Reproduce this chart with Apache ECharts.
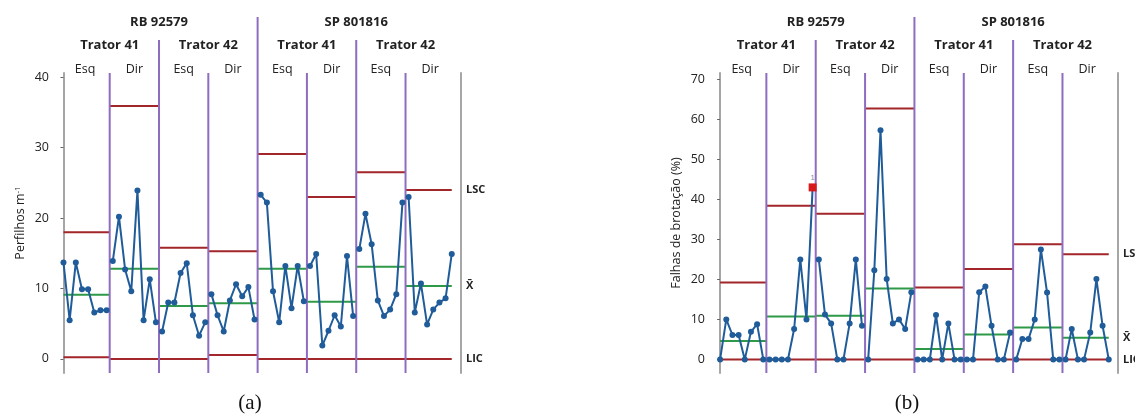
<!DOCTYPE html>
<html><head><meta charset="utf-8">
<script src="https://cdn.jsdelivr.net/npm/echarts@6/dist/echarts.min.js"></script>
<style>html,body{margin:0;padding:0;background:#fff}#c{width:1135px;height:417px}</style>
</head><body><div id="c"></div>
<script>
// ---------- data ----------
const cultivars = ['RB 92579', 'SP 801816'];
const tractors = ['Trator 41', 'Trator 42'];
const sides = ['Esq', 'Dir'];
const pointsPerGroup = 8;

// (a) Perfilhos m-1
const perfilhos = [
  13.7, 5.5, 13.7, 9.9, 9.9, 6.6, 6.9, 6.9,
  13.9, 20.2, 12.7, 9.6, 23.9, 5.5, 11.3, 5.2,
  3.9, 8.0, 8.0, 12.2, 13.6, 6.2, 3.3, 5.2,
  9.2, 6.2, 3.9, 8.3, 10.6, 8.9, 10.2, 5.6,
  23.3, 22.2, 9.6, 5.2, 13.2, 7.2, 13.2, 8.2,
  13.2, 14.9, 1.9, 4.0, 6.2, 4.6, 14.6, 6.1,
  15.6, 20.6, 16.3, 8.3, 6.1, 7.0, 9.2, 22.2,
  23.0, 6.6, 10.7, 4.9, 7.0, 8.0, 8.6, 14.9
];
const lscA = [18.0, 35.9, 15.8, 15.3, 29.1, 23.0, 26.5, 24.0];
const meanA = [9.1, 12.8, 7.5, 7.9, 12.8, 8.1, 13.1, 10.35];
const licA = [0.24, 0, 0, 0.57, 0, 0, 0, 0];
const yTicksA = [0, 10, 20, 30, 40];

// (b) Falhas de brotação (%)
const falhas = [
  0, 10.0, 6.1, 6.1, 0, 6.9, 8.8, 0,
  0, 0, 0, 0, 7.6, 25.0, 10.0, 43.0,
  25.0, 11.2, 9.0, 0, 0, 9.0, 25.0, 8.4,
  0, 22.3, 57.3, 20.1, 9.0, 10.0, 7.6, 16.8,
  0, 0, 0, 11.1, 0, 9.0, 0, 0,
  0, 0, 16.8, 18.2, 8.4, 0, 0, 6.7,
  0, 5.1, 5.1, 10.0, 27.5, 16.7, 0, 0,
  0, 7.6, 0, 0, 6.7, 20.1, 8.4, 0
];
const lscB = [19.25, 38.4, 36.4, 62.75, 18.0, 22.6, 28.8, 26.3];
const meanB = [4.6, 10.7, 10.9, 17.75, 2.6, 6.25, 8.0, 5.4];
const licB = [0, 0, 0, 0, 0, 0, 0, 0];
const outOfControlB = [15];
const yTicksB = [0, 10, 20, 30, 40, 50, 60, 70];

const limitLabels = ['LSC', 'X\u0304', 'LIC'];
const panelLabels = ['(a)', '(b)'];

// ---------- style ----------
const FONT = 'Open Sans';
const C_DATA = '#1f5c99', C_LIM = '#a3262a', C_MEAN = '#2e9a47', C_DIV = '#8e6cc0', C_AX = '#a6a6a6';

const panels = [
  { vals: perfilhos, lsc: lscA, mean: meanA, lic: licA, flags: [], ticks: yTicksA, ymin: -2, ymax: 40.6,
    xmin: -1.7, xmax: 64.5, grid: { left: 53, right: 674, top: 73, bottom: 44 },
    name: 'Perfilhos m{sup|-1}', nameGap: 26, label: panelLabels[0], labelX: 250 },
  { vals: falhas, lsc: lscB, mean: meanB, lic: licB, flags: outOfControlB, ticks: yTicksB, ymin: -3.4, ymax: 71.6,
    xmin: -1.8, xmax: 64.5, grid: { left: 709, right: 17, top: 73, bottom: 44 },
    name: 'Falhas de brotação (%)', nameGap: 26, label: panelLabels[1], labelX: 907 }
];

const nGroups = cultivars.length * tractors.length * sides.length;
const groupSide = [];
cultivars.forEach(() => tractors.forEach(() => sides.forEach(s => groupSide.push(s))));

function pointData(vals, flags) {
  const d = [];
  vals.forEach((v, i) => {
    if (i > 0 && i % pointsPerGroup === 0) d.push([i - 0.5, null]);
    if (flags.includes(i)) {
      d.push({ value: [i, v], symbol: 'rect', symbolSize: 8, itemStyle: { color: '#d7191c' },
        label: { show: true, formatter: '1', position: 'top', distance: 2, fontSize: 8, color: '#8a8aa0' } });
    } else d.push([i, v]);
  });
  return d;
}
function stepData(arr, n) {
  const d = [];
  arr.forEach((v, g) => {
    const a = g === 0 ? 0 : g * pointsPerGroup - 0.5;
    const b = g === arr.length - 1 ? n - 1 : (g + 1) * pointsPerGroup - 0.5;
    d.push([a, v], [b, v], [b, null]);
  });
  return d;
}

const grids = [], xAxes = [], yAxes = [], series = [];
panels.forEach((p, pi) => {
  grids.push(p.grid);
  xAxes.push({ gridIndex: pi, type: 'value', min: p.xmin, max: p.xmax, show: false });
  yAxes.push({
    gridIndex: pi, type: 'value', min: p.ymin, max: p.ymax, position: 'left',
    name: p.name, nameLocation: 'middle', nameGap: p.nameGap,
    nameTextStyle: { fontFamily: FONT, fontSize: 12.5, color: '#222',
      rich: { sup: { fontSize: 8, verticalAlign: 'top', lineHeight: 10, fontFamily: FONT, color: '#222' } } },
    axisLine: { show: true, lineStyle: { color: C_AX, width: 2 } },
    axisTick: { show: true, customValues: p.ticks, length: 3, lineStyle: { color: '#666' } },
    axisLabel: { customValues: p.ticks, fontFamily: FONT, fontSize: 12.5, color: '#222', margin: 4 },
    splitLine: { show: false }
  });
  yAxes.push({
    gridIndex: pi, type: 'value', min: p.ymin, max: p.ymax, position: 'right',
    axisLine: { show: true, lineStyle: { color: C_AX, width: 2 } },
    axisTick: { show: false }, axisLabel: { show: false }, splitLine: { show: false }
  });
  const n = p.vals.length;
  const base = { type: 'line', xAxisIndex: pi, yAxisIndex: pi * 2, symbol: 'none', silent: true, animation: false };
  series.push(Object.assign({}, base, { data: stepData(p.lsc, n), lineStyle: { color: C_LIM, width: 2 }, z: 2 }));
  series.push(Object.assign({}, base, { data: stepData(p.lic, n), lineStyle: { color: C_LIM, width: 2 }, z: 2 }));
  series.push(Object.assign({}, base, { data: stepData(p.mean, n), lineStyle: { color: C_MEAN, width: 2 }, z: 2 }));
  series.push(Object.assign({}, base, {
    data: pointData(p.vals, p.flags), symbol: 'circle', symbolSize: 6, showSymbol: true,
    itemStyle: { color: C_DATA }, lineStyle: { color: C_DATA, width: 2 }, z: 5
  }));
});

const chart = echarts.init(document.getElementById('c'));
chart.setOption({ animation: false, grid: grids, xAxis: xAxes, yAxis: yAxes, series: series });

// ---------- dividers & header text via the chart's own scales ----------
const gfx = [];
function txt(text, x, y, font, color, align) {
  gfx.push({ type: 'text', z: 10, silent: true,
    style: { text: text, x: x, y: y, font: font, fill: color || '#222', align: align || 'center', verticalAlign: 'middle' } });
}
panels.forEach((p, pi) => {
  const f = { xAxisIndex: pi, yAxisIndex: pi * 2 };
  const px = (x, y) => chart.convertToPixel(f, [x, y]);
  const yBottom = px(0, p.ymin)[1];
  const yTop = px(0, p.ymax)[1];
  for (let g = 0; g < nGroups - 1; g++) {
    const xv = (g + 1) * pointsPerGroup - 0.5;
    const x = px(xv, 0)[0];
    const level = (g + 1) % 4 === 0 ? 2 : ((g + 1) % 2 === 0 ? 1 : 0);
    const top = yTop - [0, 33, 56][level];
    gfx.push({ type: 'line', z: 4, silent: true, shape: { x1: x, y1: top, x2: x, y2: yBottom },
      style: { stroke: C_DIV, lineWidth: 2 } });
  }
  // side labels
  groupSide.forEach((s, g) => txt(s, px(g * pointsPerGroup + 3.5, 0)[0], yTop - 4, `12.5px "${FONT}"`));
  // tractor labels
  for (let k = 0; k < cultivars.length * tractors.length; k++) {
    txt(tractors[k % tractors.length], px(k * 2 * pointsPerGroup + pointsPerGroup - 0.5, 0)[0], yTop - 28, `bold 13px "${FONT}"`);
  }
  // cultivar labels
  cultivars.forEach((c, ci) => txt(c, px(ci * 4 * pointsPerGroup + 2 * pointsPerGroup - 0.5, 0)[0], yTop - 51, `bold 13px "${FONT}"`));
  // limit labels on the right
  const xr = px(p.xmax, 0)[0] + 5;
  const last = p.lsc.length - 1;
  [p.lsc[last], p.mean[last], p.lic[last]].forEach((v, j) =>
    txt(limitLabels[j], xr, px(0, v)[1], `bold 11px "${FONT}"`, '#222', 'left'));
  // panel label
  txt(p.label, p.labelX, 403, '21px "Liberation Serif"', '#111');
});
chart.setOption({ graphic: gfx });
</script>
</body></html>
